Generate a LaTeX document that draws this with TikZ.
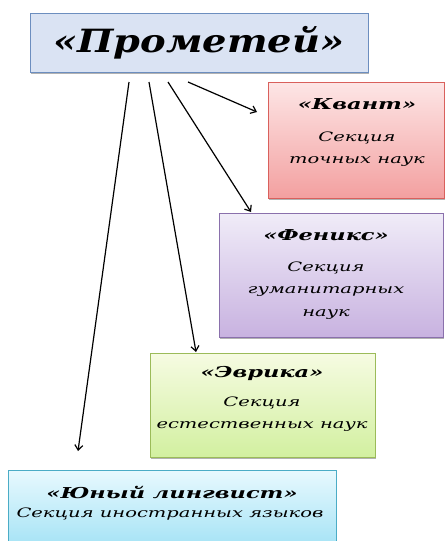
\documentclass[tikz,border=0pt]{standalone}
\usepackage{fontspec}
\setmainfont{DejaVu Serif}
\newfontfamily\handwide[FakeStretch=1.5]{DejaVu Serif}
\newfontfamily\handbig[FakeStretch=1.2]{DejaVu Serif}
\usetikzlibrary{arrows.meta,shadows}
\definecolor{promfill}{HTML}{DAE3F3}
\definecolor{promline}{HTML}{6C8EBF}
\definecolor{kvtop}{HTML}{FDE6E6}
\definecolor{kvbot}{HTML}{F3A0A0}
\definecolor{kvline}{HTML}{D9605C}
\definecolor{fntop}{HTML}{F0ECF8}
\definecolor{fnbot}{HTML}{C8B2E0}
\definecolor{fnline}{HTML}{8A70AC}
\definecolor{evtop}{HTML}{F6FBE2}
\definecolor{evbot}{HTML}{D2F0A0}
\definecolor{evline}{HTML}{9BBB59}
\definecolor{yutop}{HTML}{E8F9FE}
\definecolor{yubot}{HTML}{A2E2F5}
\definecolor{yuline}{HTML}{4BACC6}
\tikzset{
  box/.style={draw, line width=0.8pt, inner sep=0pt, align=center,
    drop shadow={shadow xshift=1.2pt, shadow yshift=-1.5pt, opacity=0.3, fill=black}},
  title/.style={font=\handwide\itshape\bfseries\fontsize{15}{15}\selectfont},
  body/.style={font=\handwide\itshape\fontsize{13}{22.5}\selectfont},
  conn/.style={line width=1.2pt, -{Straight Barb[length=5pt,width=8pt]}},
}
\begin{document}
\begin{tikzpicture}[x=1pt,y=-1pt]
\useasboundingbox (0,0) rectangle (445,541);
\node[box, draw=promline, fill=promfill, minimum width=338pt, minimum height=59pt]
  (prom) at (199,42.5) {\handbig\itshape\bfseries\fontsize{32}{32}\selectfont «Прометей»};
\node[box, draw=kvline, top color=kvtop, bottom color=kvbot, minimum width=176pt, minimum height=116pt]
  (kv) at (356,140) {};
\node[box, draw=fnline, top color=fntop, bottom color=fnbot, minimum width=224pt, minimum height=124pt]
  (fn) at (331,275) {};
\node[box, draw=evline, top color=evtop, bottom color=evbot, minimum width=225pt, minimum height=104pt]
  (ev) at (262.5,405) {};
\node[box, draw=yuline, top color=yutop, bottom color=yubot, minimum width=328pt, minimum height=80pt]
  (yu) at (172,510) {};
\node[title] (kvt) at (357,104) {«Квант»};
\node[body, align=center, anchor=north] (kvb) at (357,128) {Секция\\точных наук};
\node[title] (fnt) at (326,235) {«Феникс»};
\node[body, align=center, anchor=north] (fnb) at (326,258) {Секция\\гуманитарных\\наук};
\node[title] (evt) at (262,373) {«Эврика»};
\node[body, align=center, anchor=north] (evb) at (262,393) {Секция\\естественных наук};
\node[title] (yut) at (172,492) {«Юный лингвист»};
\node[body] (yub) at (170,514) {Секция иностранных языков};
\coordinate (s1) at (129,82);
\coordinate (s2) at (149,82);
\coordinate (s3) at (168,82);
\coordinate (s4) at (188,82);
\coordinate (e1) at (78,451);
\coordinate (e2) at (196,352);
\coordinate (e3) at (251,212);
\coordinate (e4) at (257,112);
\draw[conn] (s1) -- (e1);
\draw[conn] (s2) -- (e2);
\draw[conn] (s3) -- (e3);
\draw[conn] (s4) -- (e4);
\end{tikzpicture}
\end{document}
